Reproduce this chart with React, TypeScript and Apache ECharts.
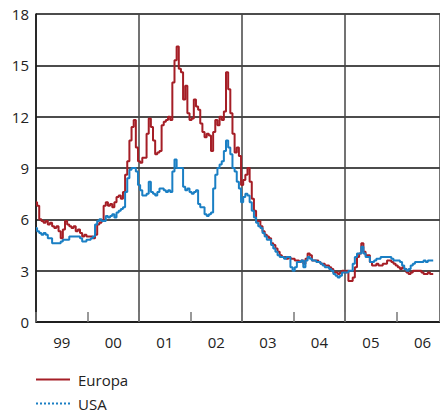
import React, { useEffect, useRef } from "react";
import * as echarts from "echarts";

// Semi-monthly observations, starting January 1999 (step = 1/24 year)
const startYear = 1999;
const stepsPerYear = 24;

const europa = [
  7.0, 6.8, 6.0, 5.9, 5.8, 5.9, 5.7, 5.8, 5.6, 5.5, 5.6, 5.3, 4.9, 5.4, 5.9, 5.7, 5.6, 5.5, 5.6, 5.3,
  5.4, 5.2, 5.0, 5.1, 5.0, 5.0, 5.0, 4.9, 5.1, 5.7, 5.8, 5.9, 6.8, 7.0, 6.8, 6.9, 6.7, 7.0, 7.3, 7.4,
  7.2, 7.6, 8.6, 9.4, 10.6, 11.4, 11.8, 10.2, 9.4, 9.3, 9.6, 9.6, 11.0, 11.9, 11.4, 10.6, 9.8, 9.9, 10.0, 11.5,
  11.7, 11.8, 12.0, 11.8, 14.0, 15.3, 16.1, 14.8, 14.6, 13.0, 13.8, 12.2, 11.8, 11.9, 13.0, 12.6, 12.4, 11.6, 11.1, 10.8,
  11.0, 10.9, 10.0, 11.1, 11.8, 11.5, 12.0, 11.8, 12.3, 14.6, 13.6, 12.2, 11.0, 9.9, 10.2, 9.7, 8.0, 8.3, 8.6, 9.0,
  8.2, 7.2, 6.5, 5.9, 5.9, 5.6, 5.3, 5.1, 5.0, 4.9, 4.6, 4.5, 4.3, 4.1, 3.9, 3.8, 3.8, 3.7, 3.8, 3.7,
  3.7, 3.6, 3.6, 3.5, 3.6, 3.4, 3.7, 4.0, 3.9, 3.6, 3.6, 3.6, 3.5, 3.4, 3.4, 3.3, 3.3, 3.2, 3.1, 2.9,
  2.9, 2.8, 2.9, 3.0, 2.9, 3.0, 2.4, 2.4, 2.6, 3.2, 3.8, 4.0, 4.6, 4.1, 3.9, 3.9, 3.5, 3.3, 3.3, 3.4,
  3.3, 3.3, 3.4, 3.4, 3.6, 3.6, 3.5, 3.4, 3.3, 3.2, 3.1, 3.2, 3.1, 2.9, 2.8, 2.9, 3.0, 3.0, 3.0, 3.0,
  2.9, 2.8, 2.8, 2.9, 2.8, 2.8,
];

const usa = [
  5.5, 5.3, 5.2, 5.1, 5.2, 5.1, 4.9, 4.9, 4.6, 4.6, 4.6, 4.6, 4.7, 4.8, 4.8, 4.8, 5.0, 5.0, 5.0, 5.0,
  5.0, 4.9, 4.7, 4.7, 4.8, 4.8, 4.9, 5.0, 5.7, 5.9, 6.0, 5.9, 5.9, 6.2, 6.1, 6.2, 6.3, 6.1, 6.4, 6.5,
  6.6, 6.7, 7.6, 8.4, 8.9, 9.0, 9.0, 8.8, 8.0, 7.7, 7.4, 7.4, 7.5, 8.2, 7.6, 7.5, 7.4, 7.6, 7.8, 7.8,
  7.7, 7.6, 7.7, 7.6, 8.8, 9.5, 9.0, 9.0, 9.0, 7.9, 7.7, 7.8, 7.6, 7.5, 7.6, 7.7, 6.9, 6.7, 6.7, 6.3,
  6.2, 6.3, 6.4, 7.8, 8.6, 9.0, 9.2, 9.4, 10.0, 10.6, 10.2, 9.8, 9.0, 8.8, 8.2, 7.8, 7.0, 7.3, 7.5, 7.4,
  7.0, 6.5, 6.1, 5.8, 5.6, 5.5, 5.2, 5.0, 4.8, 4.8, 4.5, 4.3, 4.1, 3.9, 3.8, 3.8, 3.7, 3.8, 3.8, 3.2,
  3.0, 3.2, 3.5, 3.5, 3.6, 3.2, 3.6, 3.8, 3.7, 3.6, 3.6, 3.5, 3.5, 3.4, 3.3, 3.2, 3.2, 3.1, 3.0, 2.8,
  2.7, 2.6, 2.7, 2.9, 2.9, 2.9, 3.0, 3.0, 3.4, 3.8, 4.0, 4.0, 4.4, 4.0, 3.8, 3.8, 3.5, 3.5, 3.6, 3.7,
  3.7, 3.8, 3.8, 3.8, 3.8, 3.8, 3.7, 3.6, 3.6, 3.6, 3.5, 3.3, 3.1, 3.0, 3.1, 3.3, 3.4, 3.5, 3.5, 3.5,
  3.5, 3.6, 3.5, 3.6, 3.6, 3.6,
];

const yTicks = [0, 3, 6, 9, 12, 15, 18];
const seriesNames = ["Europa", "USA"];

const RED = "#a51e26";
const BLUE = "#1a7fc4";
const FONT = "'Open Sans', 'Noto Sans', sans-serif";

export default function App() {
  const ref = useRef<HTMLDivElement>(null);

  useEffect(() => {
    document.body.style.margin = "0";
    if (!ref.current) return;
    const chart = echarts.init(ref.current, undefined, { renderer: "svg" });

    const toPairs = (vals: number[]) => vals.map((v, i) => [i / stepsPerYear, v]);

    let dots = "path://";
    for (let k = 0; k < 9; k++) dots += `M${k * 4},0h2v2h-2z`;
    const solid = "path://M0,0H34V2H0Z";

    const xMax = 7.84;

    const legendBase = {
      left: 36,
      padding: 0,
      itemWidth: 34,
      itemHeight: 14,
      textStyle: { fontSize: 15, color: "#222", fontFamily: FONT, padding: [0, 0, 0, 3] },
    };

    chart.setOption({
      animation: false,
      textStyle: { fontFamily: FONT },
      grid: { left: 36, right: 0, top: 14, bottom: 90, containLabel: false },
      legend: [
        {
          ...legendBase,
          top: 372,
          data: [{ name: seriesNames[0], icon: solid, itemStyle: { color: RED } }],
        },
        {
          ...legendBase,
          top: 396,
          data: [{ name: seriesNames[1], icon: dots, itemStyle: { color: BLUE } }],
        },
      ],
      xAxis: [
        {
          type: "value",
          min: 0,
          max: xMax,
          interval: 1,
          axisLine: { show: true, lineStyle: { color: "#111", width: 1.5 } },
          axisTick: { show: true, inside: true, length: 10, lineStyle: { color: "#777", width: 1.5 } },
          axisLabel: { show: false },
          splitLine: { show: false },
        },
        {
          type: "value",
          min: 0,
          max: xMax,
          interval: 2,
          position: "bottom",
          axisLine: { show: false },
          axisTick: { show: false },
          axisLabel: { show: false },
          splitLine: { show: true, lineStyle: { color: "#444", width: 1.5 } },
        },
        {
          type: "value",
          min: 0,
          max: xMax,
          interval: 0.5,
          position: "bottom",
          axisLine: { show: false },
          axisTick: { show: false },
          splitLine: { show: false },
          axisLabel: {
            show: true,
            margin: 12,
            fontSize: 15,
            color: "#222",
            fontFamily: FONT,
            showMinLabel: true,
            showMaxLabel: false,
            formatter: (v: number) => {
              const frac = Math.round((v % 1) * 10) / 10;
              if (frac !== 0.5) return "";
              const yr = (startYear + Math.floor(v)) % 100;
              return String(yr).padStart(2, "0");
            },
          },
        },
      ],
      yAxis: {
        type: "value",
        min: yTicks[0],
        max: yTicks[yTicks.length - 1],
        interval: 3,
        axisLine: { show: true, lineStyle: { color: "#111", width: 1.5 } },
        axisTick: { show: false },
        axisLabel: { margin: 7, fontSize: 15, color: "#222", fontFamily: FONT },
        splitLine: { show: true, lineStyle: { color: "#111", width: 1.5 } },
      },
      series: [
        {
          name: seriesNames[0],
          type: "line",
          xAxisIndex: 0,
          data: toPairs(europa),
          step: "middle",
          symbol: "none",
          showSymbol: false,
          lineStyle: { color: RED, width: 2 },
          itemStyle: { color: RED },
          z: 3,
        },
        {
          name: seriesNames[1],
          type: "line",
          xAxisIndex: 0,
          data: toPairs(usa),
          step: "middle",
          symbol: "none",
          showSymbol: false,
          lineStyle: { color: BLUE, width: 2 },
          itemStyle: { color: BLUE },
          z: 4,
        },
      ],
    });

    return () => chart.dispose();
  }, []);

  return <div ref={ref} style={{ width: 440, height: 412 }} />;
}
